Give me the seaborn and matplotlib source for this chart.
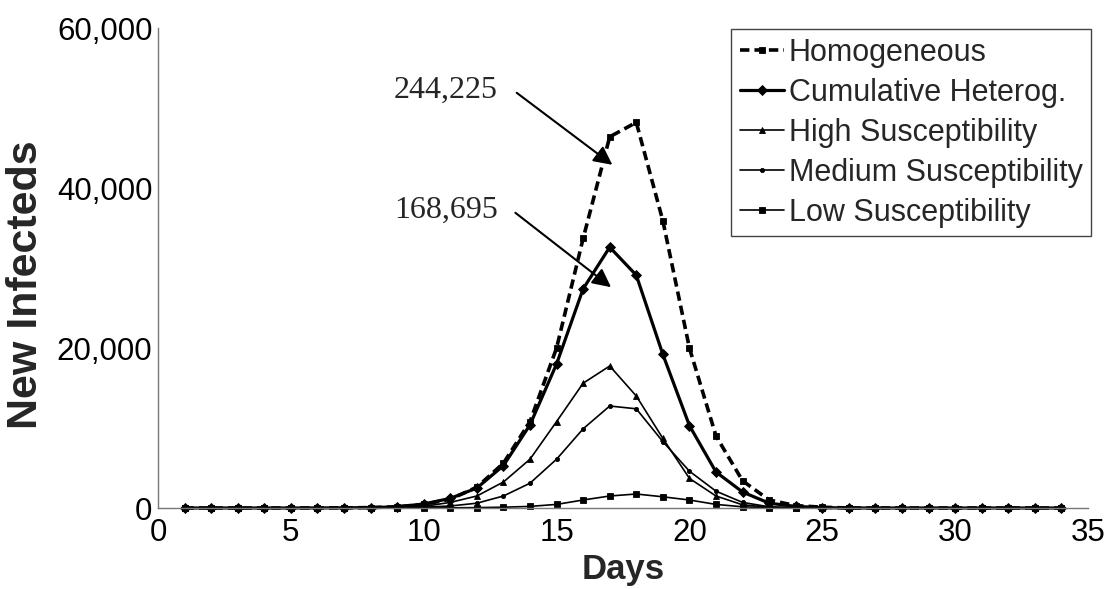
import matplotlib
matplotlib.use("Agg")
import matplotlib.pyplot as plt
import seaborn as sns
import pandas as pd
from matplotlib.ticker import FuncFormatter

# --- data -------------------------------------------------------------
days = list(range(1, 35))

homogeneous = [0, 0, 0, 0, 0, 10, 20, 50, 150, 450, 1100, 2600, 5600, 10800,
               20000, 33700, 46400, 48200, 35900, 20000, 9000, 3400, 1000, 300,
               100, 0, 0, 0, 0, 0, 0, 0, 0, 0]
cumulative_heterog = [0, 0, 0, 0, 0, 10, 20, 50, 150, 500, 1200, 2500, 5300,
                      10400, 18000, 27400, 32600, 29100, 19200, 10300, 4500,
                      2000, 600, 200, 50, 0, 0, 0, 0, 0, 0, 0, 0, 0]
high_susc = [0, 0, 0, 0, 0, 0, 10, 20, 50, 200, 700, 1500, 3250, 6100, 10800,
             15600, 17750, 14000, 8700, 3700, 1500, 400, 100, 0, 0, 0, 0, 0, 0,
             0, 0, 0, 0, 0]
medium_susc = [0, 0, 0, 0, 0, 0, 0, 10, 30, 100, 250, 600, 1500, 3100, 6100,
               9900, 12750, 12400, 8300, 4600, 2100, 700, 150, 50, 0, 0, 0, 0,
               0, 0, 0, 0, 0, 0]
low_susc = [0, 0, 0, 0, 0, 0, 0, 0, 0, 0, 20, 50, 100, 200, 450, 1000, 1500,
            1750, 1400, 1000, 450, 150, 30, 0, 0, 0, 0, 0, 0, 0, 0, 0, 0, 0]

series_names = ["Homogeneous", "Cumulative Heterog.", "High Susceptibility",
                "Medium Susceptibility", "Low Susceptibility"]
series_values = [homogeneous, cumulative_heterog, high_susc, medium_susc, low_susc]

total_labels = ["244,225", "168,695"]

x_ticks = [0, 5, 10, 15, 20, 25, 30, 35]
y_ticks = [0, 20000, 40000, 60000]

# --- style ------------------------------------------------------------
sns.set_theme(style="white")
plt.rcParams["font.family"] = ["Liberation Sans", "DejaVu Sans"]

styles = {
    "Homogeneous": dict(lw=2.6, dashes=(2.6, 1.4), marker="s", ms=5.0),
    "Cumulative Heterog.": dict(lw=2.3, dashes=None, marker="D", ms=5.0),
    "High Susceptibility": dict(lw=1.2, dashes=None, marker="^", ms=5.0),
    "Medium Susceptibility": dict(lw=1.2, dashes=None, marker="o", ms=3.0),
    "Low Susceptibility": dict(lw=1.2, dashes=None, marker="s", ms=4.0),
}

frame = pd.DataFrame({"Day": days * len(series_names),
                      "New Infecteds": sum(series_values, []),
                      "Series": sum([[n] * len(days) for n in series_names], [])})

fig = plt.figure(figsize=(11.12, 5.89), dpi=100)
ax = fig.add_axes([158 / 1112, 1 - 508 / 589, (1088 - 158) / 1112, (508 - 28) / 589])

handles = []
for name in series_names:
    st = styles[name]
    sub = frame[frame["Series"] == name]
    sns.lineplot(data=sub, x="Day", y="New Infecteds", ax=ax, color="black",
                 linewidth=st["lw"], marker=st["marker"], markersize=st["ms"],
                 markeredgecolor="black", markerfacecolor="black",
                 markeredgewidth=0.6, clip_on=False, label=name, legend=False)
    line = ax.lines[-1]
    if st["dashes"] is not None:
        line.set_dashes(st["dashes"])
    handles.append(line)

ax.set_xlim(0, 35)
ax.set_ylim(0, 60000)
ax.set_xticks(x_ticks)
ax.set_yticks(y_ticks)
ax.yaxis.set_major_formatter(FuncFormatter(lambda v, p: f"{int(v):,}"))

for side in ("top", "right"):
    ax.spines[side].set_visible(False)
for side in ("left", "bottom"):
    ax.spines[side].set_color("#777777")
    ax.spines[side].set_linewidth(1.0)

ax.tick_params(axis="both", direction="in", length=7, width=1.0,
               color="#777777", labelsize=22.5, labelcolor="black")
ax.tick_params(axis="y", pad=4)
ax.tick_params(axis="x", pad=7)

ax.set_xlabel("Days", fontsize=25, fontweight="bold", labelpad=4)
ax.set_ylabel("New Infecteds", fontsize=31, fontweight="bold")
ax.yaxis.set_label_coords(-0.12, 0.465)

# totals, each with an arrow pointing at its curve's peak
ax.text(12.8, 52250, total_labels[0], ha="right", va="center", fontsize=23,
        family="Liberation Serif")
ax.text(12.8, 37250, total_labels[1], ha="right", va="center", fontsize=23,
        family="Liberation Serif")
arrow_kw = dict(arrowstyle="-|>", color="black", lw=1.5, mutation_scale=28,
                shrinkA=0, shrinkB=0)
ax.annotate("", xy=(17.1, 42900), xytext=(13.5, 51900), arrowprops=arrow_kw)
ax.annotate("", xy=(17.05, 27600), xytext=(13.45, 36900), arrowprops=arrow_kw)

leg = ax.legend(handles=handles, labels=series_names, loc="upper right",
                bbox_to_anchor=(1091 / 1112, 1 - 29 / 589),
                bbox_transform=fig.transFigure, borderaxespad=0,
                fontsize=22, frameon=True, fancybox=False, framealpha=1,
                handlelength=1.45, handletextpad=0.15, labelspacing=0.33,
                borderpad=0.28)
leg.get_frame().set_edgecolor("#444444")
leg.get_frame().set_linewidth(1.0)

fig.savefig("out.png", dpi=100)
